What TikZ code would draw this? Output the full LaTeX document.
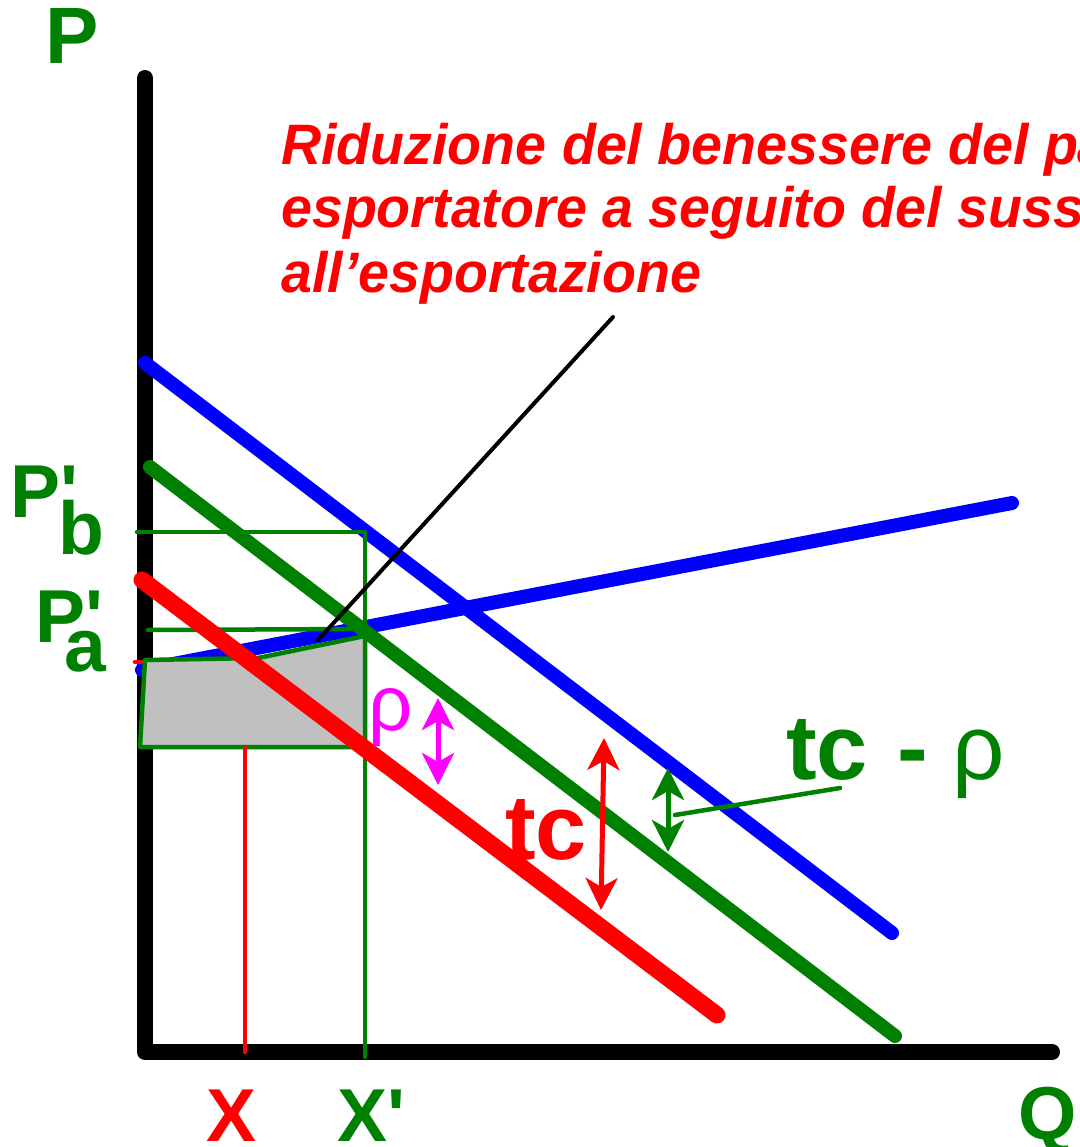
\documentclass[tikz,border=0pt]{standalone}
\usepackage{fontspec}
\setmainfont{Liberation Sans}
\newfontfamily\lsans{Liberation Sans}[Ligatures=TeXOff]
\newfontfamily\lnote{Liberation Sans}[FakeStretch=0.975]
\usetikzlibrary{arrows.meta}
\definecolor{pgreen}{RGB}{0,128,0}
\definecolor{pblue}{RGB}{0,0,255}
\definecolor{pred}{RGB}{255,0,0}
\definecolor{pmag}{RGB}{255,0,255}
\definecolor{pgray}{RGB}{192,192,192}
\begin{document}
\begin{tikzpicture}[x=1pt,y=-1pt,
  curve/.style={line width=14pt, line cap=round},
  thinline/.style={line width=4.5pt, line cap=round},
  lbl/.style={inner sep=0pt, anchor=base west, font=\lsans\bfseries\fontsize{75}{75}\selectfont},
  note/.style={inner sep=0pt, anchor=base west, text=pred, font=\lnote\bfseries\itshape\fontsize{57}{64}\selectfont},
  dbl/.style={line width=5pt, {Stealth[length=32pt,width=32pt,inset=9pt]}-{Stealth[length=32pt,width=32pt,inset=9pt]}},
]
\useasboundingbox (0,0) rectangle (1079,1147);
\clip (0,0) rectangle (1079,1147);

% coordinates
\coordinate (Ytop) at (145,78);
\coordinate (O) at (145,1052);
\coordinate (Xend) at (1052,1052);
\coordinate (S1) at (142,670);
\coordinate (S2) at (1012,503);
\coordinate (D1) at (145,363);
\coordinate (D2) at (892,933);
\coordinate (G1) at (150,467);
\coordinate (G2) at (895,1036);
\coordinate (R1) at (142,580);
\coordinate (R2) at (717,1015);
\coordinate (Pb1) at (137,532);
\coordinate (Pb2) at (362,532);
\coordinate (V1) at (365,532);
\coordinate (V2) at (365,1057);
\coordinate (Pa1) at (148,630);
\coordinate (Pa2) at (360,629);
\coordinate (Xa) at (245,747);
\coordinate (Xb) at (245,1052);
\coordinate (rt1) at (135,662);
\coordinate (rt2) at (150,662);
\coordinate (L1) at (613,317);
\coordinate (L2) at (318,640);
\coordinate (M1) at (438,698);
\coordinate (M2) at (438,785);
\coordinate (T1) at (604,738);
\coordinate (T2) at (601,910);
\coordinate (E1) at (668,768);
\coordinate (E2) at (668,852);
\coordinate (EL1) at (675,815);
\coordinate (EL2) at (840,788);

% axes
\draw[line width=16pt, line cap=round, line join=round] (Ytop) -- (O) -- (Xend);

% blue curves
\draw[curve, pblue] (S1) -- (S2);
\draw[curve, pblue] (D1) -- (D2);

% thin guide lines
\draw[thinline, pgreen] (Pb1) -- (Pb2);
\draw[thinline, pgreen] (V1) -- (V2);
\draw[thinline, pgreen] (Pa1) -- (Pa2);
\draw[thinline, pred] (rt1) -- (rt2);

% gray area
\draw[pgreen, line width=4.5pt, fill=pgray, line join=round]
  (145,660) -- (258,658) -- (365,636) -- (365,747) -- (140,747) -- cycle;

\draw[thinline, pred] (Xa) -- (Xb);

% thick green and red curves
\draw[curve, pgreen] (G1) -- (G2);
\draw[line width=17pt, line cap=round, pred] (R1) -- (R2);

% leader line
\draw[line width=4pt, line cap=round, black] (L1) -- (L2);

% double arrows
\draw[dbl, pmag] (M1) -- (M2);
\draw[dbl, pred] (T1) -- (T2);
\draw[dbl, pgreen] (E1) -- (E2);
\draw[thinline, pgreen] (EL1) -- (EL2);

% labels
\node[lbl, text=pgreen, font=\lsans\bfseries\fontsize{80}{80}\selectfont] (Plab) at (45,64) {P};
\node[lbl, text=pgreen] (Pb) at (10,517) {P'};
\node[lbl, text=pgreen] (Pbs) at (58,554) {b};
\node[lbl, text=pgreen] (Pa) at (35,642) {P'};
\node[lbl, text=pgreen] (Pas) at (64,671) {a};
\node[lbl, text=pred] (Xl) at (206,1141) {X};
\node[lbl, text=pgreen] (Xpl) at (337,1141) {X'};
\node[lbl, text=pgreen] (Ql) at (1018,1139) {Q};
\node[lbl, text=pred, font=\lsans\bfseries\fontsize{92}{92}\selectfont] (tcl) at (505,859) {tc};
\node[lbl, text=pgreen, font=\lsans\bfseries\fontsize{92}{92}\selectfont] (tcr) at (786,779) {tc\hspace{30pt}-\hspace{24pt}{\mdseries ρ}};
\node[lbl, text=pmag, font=\lsans\fontsize{78}{78}\selectfont] (rho) at (368,730) {ρ};
\node[note] (n1) at (281,165) {Riduzione del benessere del paese};
\node[note] (n2) at (281,228) {esportatore a seguito del sussidio};
\node[note] (n3) at (281,292) {all’esportazione};
\end{tikzpicture}
\end{document}
